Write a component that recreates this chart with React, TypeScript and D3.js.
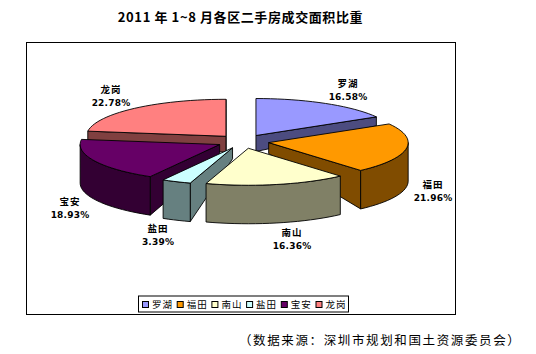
import React from "react";
import * as d3 from "d3";

const TITLE = "2011 年 1~8 月各区二手房成交面积比重";
const SOURCE = "（数据来源：深圳市规划和国土资源委员会）";
const categories = ["罗湖", "福田", "南山", "盐田", "宝安", "龙岗"];
const shares = [16.58, 21.96, 16.36, 3.39, 18.93, 22.78];
const topColors = ["#9999FF", "#FF9900", "#FFFFCC", "#CCFFFF", "#660066", "#FF8080"];
const sideColors = ["#4C4C80", "#804C00", "#808066", "#668080", "#330033", "#804040"];
const labelAnchors: [number, number][] = [[348, 87], [433, 188], [292, 236], [158, 232], [70, 205], [111, 93]];

const W = 536, H = 354;
const CX = 243, CY = 141.5, RX = 139.5, RY = 37, EXPLODE = 26;
const FRONT_DEPTH = 38.5, BACK_DEPTH = 9;
const FONT = '"Noto Sans CJK SC", "DejaVu Sans", sans-serif';

const ux = d3.scaleLinear().domain([-1, 1]).range([-RX, RX]);
const uy = d3.scaleLinear().domain([-1, 1]).range([RY, -RY]);

type Pt = [number, number];
const line = d3.line<Pt>().x(d => d[0]).y(d => d[1]);
const closed = (pts: Pt[]) => (line(pts) || "") + "Z";

export default function App() {
  const arcs = d3.pie<number>().sort(null).startAngle(0).endAngle(2 * Math.PI)(shares);
  const slices = arcs.map((a, i) => {
    const mid = (a.startAngle + a.endAngle) / 2;
    const ox = CX + (ux(Math.sin(mid)) * EXPLODE) / RX;
    const oy = CY + (uy(Math.cos(mid)) * EXPLODE) / RX;
    const on = (t: number): Pt => [ox + ux(Math.sin(t)), oy + uy(Math.cos(t))];
    const arcPts = (s: number, e: number): Pt[] => {
      const n = Math.max(2, Math.ceil(((e - s) / Math.PI) * 60));
      return d3.range(n + 1).map(k => on(s + ((e - s) * k) / n));
    };
    const apex: Pt = [ox, oy];
    const faces: string[] = [];
    const addFace = (t: number) => {
      const o = on(t);
      const back = Math.cos(t) > 0;
      const dOuter = back ? BACK_DEPTH : FRONT_DEPTH;
      const dApex = back ? 16 : 11;
      faces.push(closed([apex, o, [o[0], o[1] + dOuter], [apex[0], apex[1] + dApex]]));
    };
    if (Math.sin(a.endAngle) > 0) addFace(a.endAngle);
    if (Math.sin(a.startAngle) < 0) addFace(a.startAngle);
    const ws = Math.max(a.startAngle, Math.PI / 2);
    const we = Math.min(a.endAngle, (3 * Math.PI) / 2);
    let wall = "";
    if (we > ws) {
      const top = arcPts(ws, we);
      const bot = top.map(p => [p[0], p[1] + FRONT_DEPTH] as Pt).reverse();
      wall = closed([...top, ...bot]);
    }
    const topFace = closed([apex, ...arcPts(a.startAngle, a.endAngle)]);
    return { i, oy, faces, wall, topFace };
  });
  const ordered = [...slices].sort((p, q) => p.oy - q.oy);

  const legendX = d3.scaleLinear().domain([0, 5]).range([142, 315.5]);

  return (
    <svg width={W} height={H} style={{ position: "absolute", left: 0, top: 0, background: "#fff" }} fontFamily={FONT}>
      <text x={240.5} y={22} textAnchor="middle" fontSize={13} fontWeight={700} letterSpacing={0.6} fill="#000">{TITLE}</text>
      <rect x={26.5} y={42.5} width={429} height={272} fill="#fff" stroke="#000" strokeWidth={1} />
      {ordered.map(s => (
        <g key={s.i} stroke="#000" strokeWidth={0.9} strokeLinejoin="round">
          {s.faces.map((d, k) => <path key={k} d={d} fill={sideColors[s.i]} />)}
          {s.wall && <path d={s.wall} fill={sideColors[s.i]} />}
          <path d={s.topFace} fill={topColors[s.i]} />
        </g>
      ))}
      {categories.map((c, i) => (
        <g key={c} textAnchor="middle" fill="#000" fontSize={9.5} fontWeight={700}>
          <text x={labelAnchors[i][0]} y={labelAnchors[i][1]} letterSpacing={1}>{c}</text>
          <text x={labelAnchors[i][0]} y={labelAnchors[i][1] + 13} fontFamily='"DejaVu Sans", sans-serif' fontSize={9} letterSpacing={0.2}>{shares[i].toFixed(2)}%</text>
        </g>
      ))}
      <rect x={138.5} y={296} width={210} height={16} fill="#fff" stroke="#000" strokeWidth={1} />
      {categories.map((c, i) => (
        <g key={c}>
          <rect x={legendX(i) + 0.5} y={301.5} width={6} height={6} fill={topColors[i]} stroke="#000" strokeWidth={1} />
          <text x={legendX(i) + 10} y={308} fontSize={9.5} letterSpacing={1} fill="#000">{c}</text>
        </g>
      ))}
      <text x={239} y={345} fontSize={12.5} letterSpacing={1.62} fill="#000">{SOURCE}</text>
    </svg>
  );
}
